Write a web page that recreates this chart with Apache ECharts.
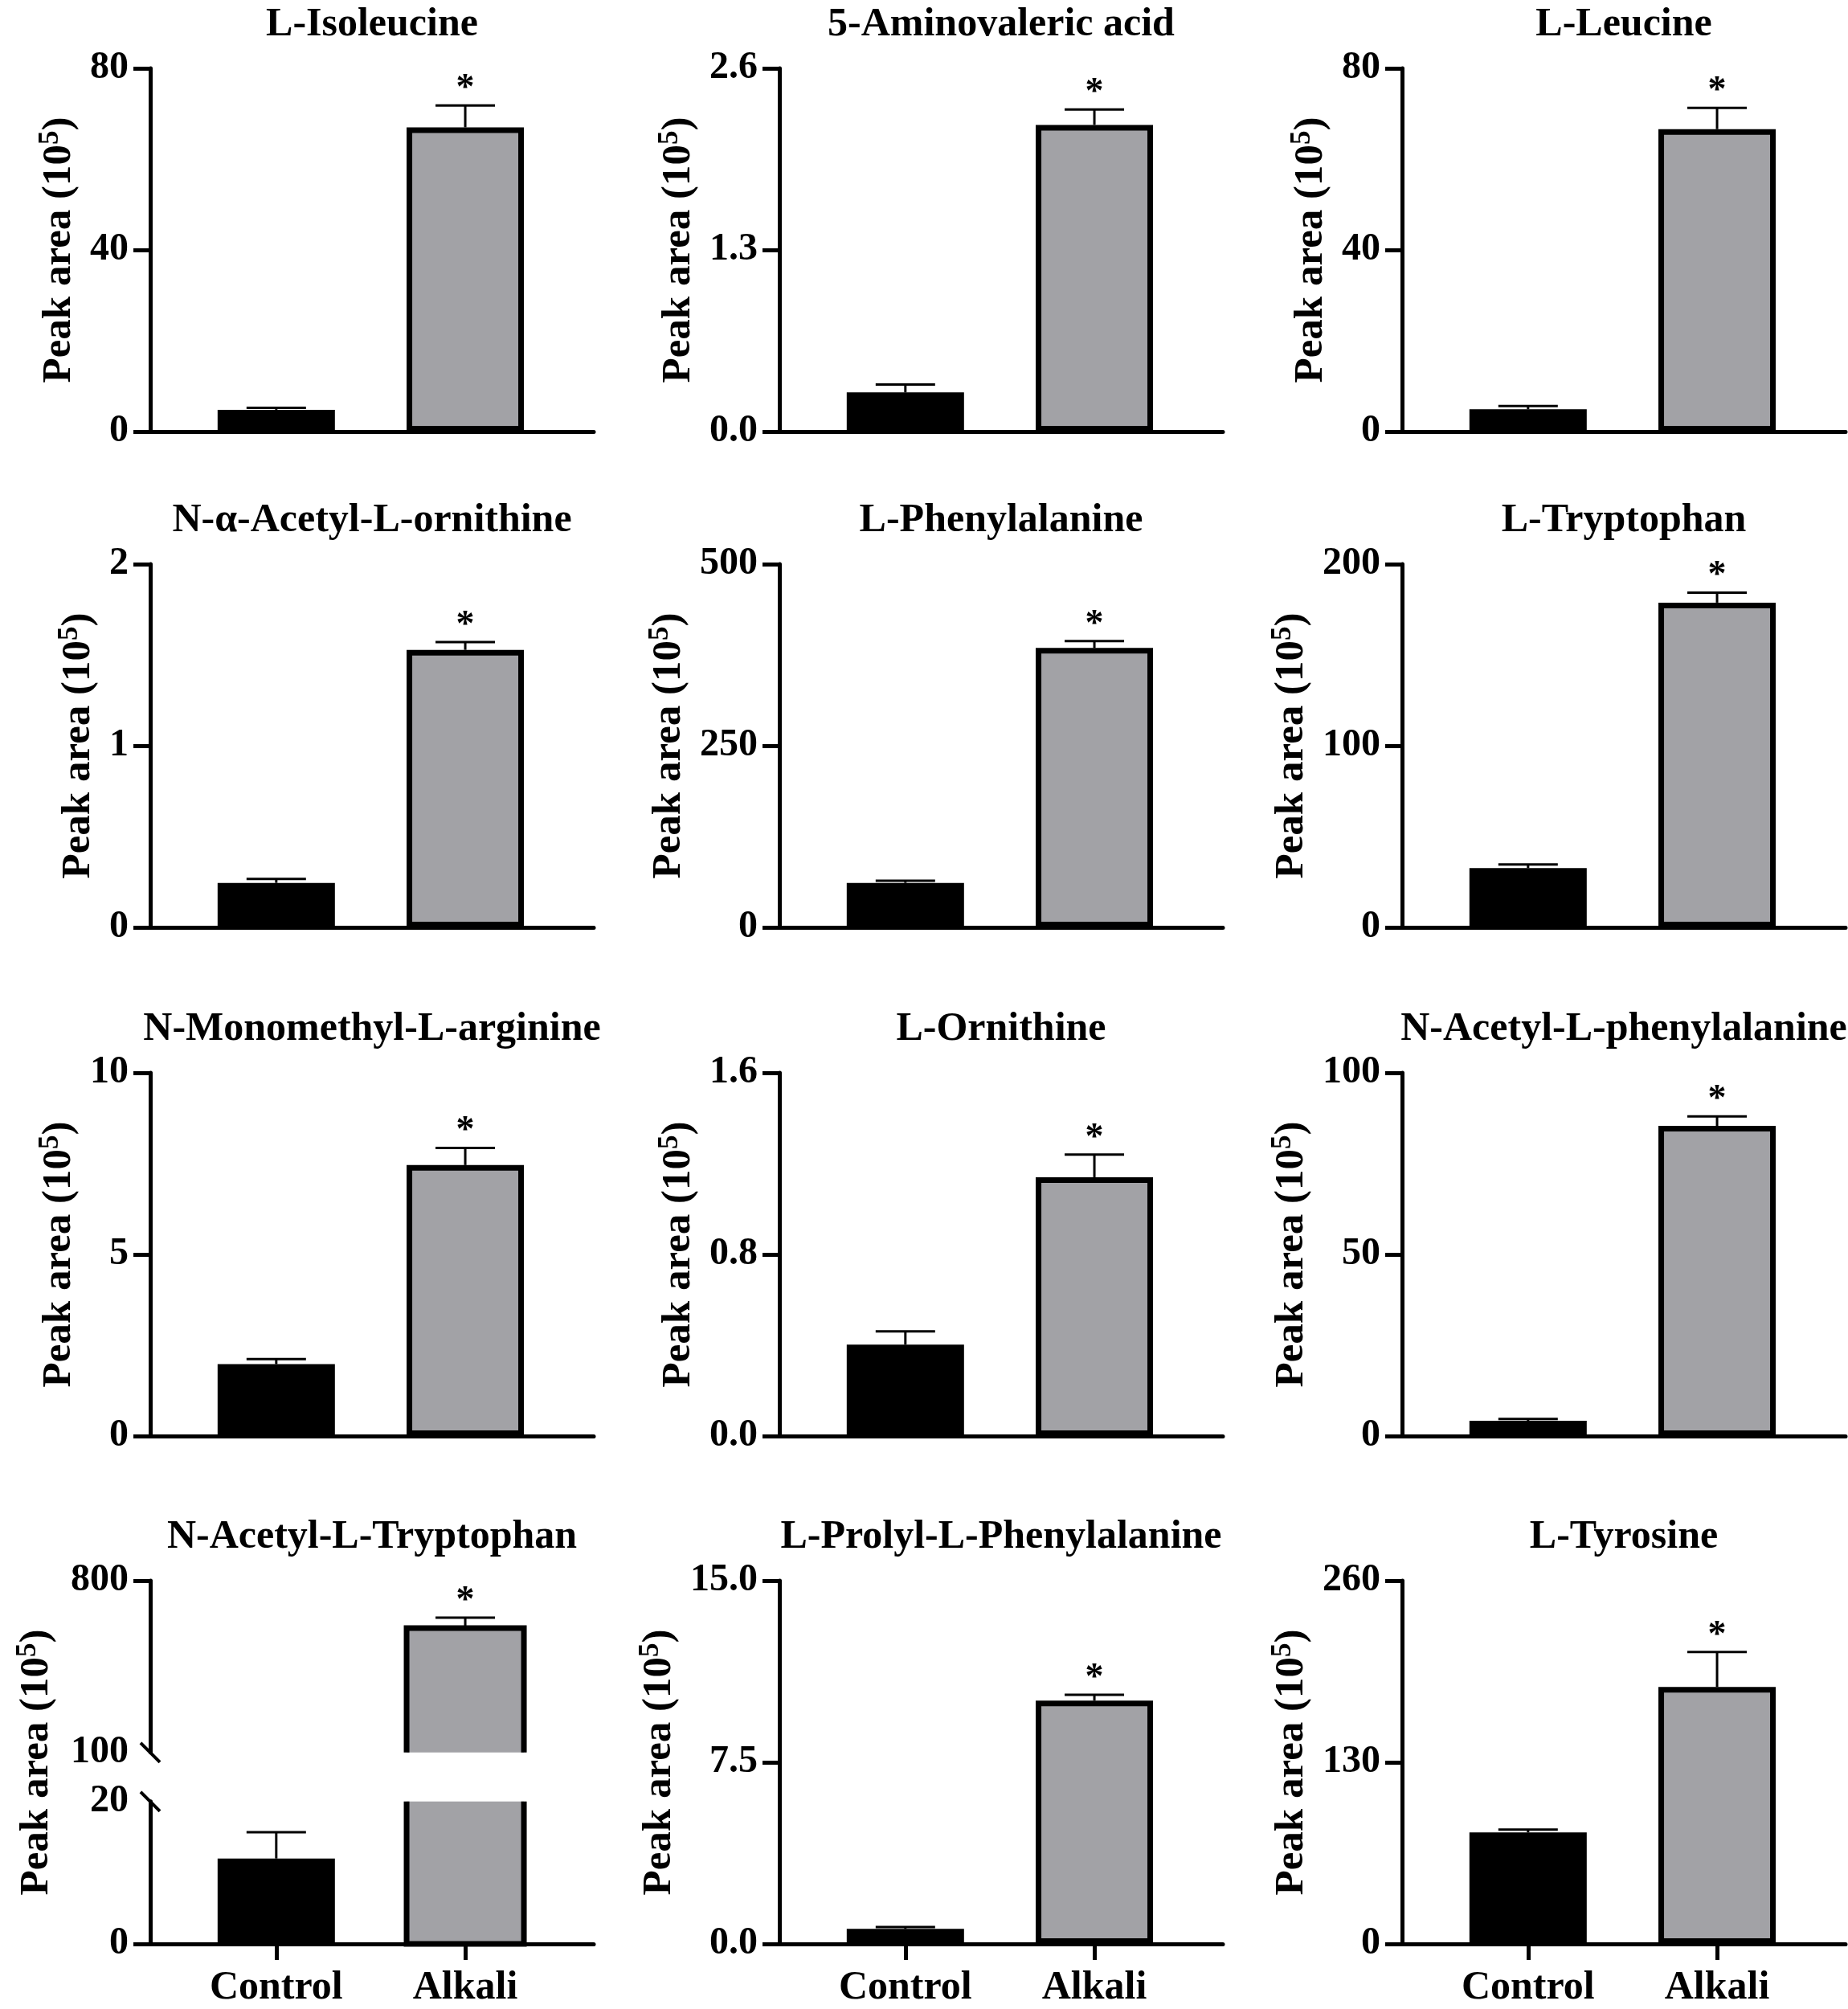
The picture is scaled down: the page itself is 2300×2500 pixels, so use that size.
<!DOCTYPE html>
<html>
<head>
<meta charset="utf-8">
<script src="https://cdn.jsdelivr.net/npm/echarts@6/dist/echarts.min.js"></script>
<style>
  html, body { margin: 0; padding: 0; background: #fff; }
  #chart { width: 2300px; height: 2500px; }
</style>
</head>
<body>
<div id="chart"></div>
<script>
// panel titles, left to right, top to bottom
const metabolites = [
  'L-Isoleucine', '5-Aminovaleric acid', 'L-Leucine',
  'N-α-Acetyl-L-ornithine', 'L-Phenylalanine', 'L-Tryptophan',
  'N-Monomethyl-L-arginine', 'L-Ornithine', 'N-Acetyl-L-phenylalanine',
  'N-Acetyl-L-Tryptophan', 'L-Prolyl-L-Phenylalanine', 'L-Tyrosine'
];
const groups = ['Control', 'Alkali'];

// peak area (10^5), mean and upper error (SEM)
const controlMean = [4.8, 0.28, 4.9, 0.245, 61.2, 32.6, 1.98, 0.403, 4.2, 12.0, 0.62, 79.8];
const controlSem  = [0.4, 0.056, 0.7, 0.022, 3.0, 2.0, 0.14, 0.058, 0.5, 3.7, 0.08, 2.0];
const alkaliMean  = [67.0, 2.195, 66.6, 1.528, 384.6, 178.8, 7.46, 1.14, 85.4, 607, 10.05, 183.9];
const alkaliSem   = [4.8, 0.11, 4.7, 0.043, 9.4, 5.5, 0.47, 0.10, 2.6, 42, 0.24, 25];
const significant = [1, 1, 1, 1, 1, 1, 1, 1, 1, 1, 1, 1];

// y axis top value and decimals of the tick labels
const yMax      = [80, 2.6, 80, 2, 500, 200, 10, 1.6, 100, 800, 15, 260];
const yDecimals = [0, 1, 0, 0, 0, 0, 0, 1, 0, 0, 1, 0];

// N-Acetyl-L-Tryptophan has a broken axis
const brokenPanel = 9;
const brokenLower = [0, 20];
const brokenUpper = [100, 800];

// layout
const colLeft = [187, 970, 1745];
const rowTop = [85, 702, 1335, 1967];
const plotW = 552, plotH = 452;
const upperFrac = 0.473, lowerFrac = 0.392;
const groupX = [1, 2.5];
const xMax = 3.52;
const barW = 146;
const FONT = '"Liberation Serif", "Times New Roman", serif';
const GRAY = '#a2a2a6';

const ctx = document.createElement('canvas').getContext('2d');
ctx.font = 'bold 48px "Liberation Serif"';
function labelWidth(strs) {
  return Math.max.apply(null, strs.map(s => ctx.measureText(s).width));
}

const grid = [], xAxis = [], yAxis = [], series = [], title = [];

function makeX(gi, showLabels, show) {
  return {
    gridIndex: gi, type: 'value', min: 0, max: xMax, show: show !== false,
    axisLine: { show: true, onZero: false, lineStyle: { color: '#000', width: 5 } },
    axisTick: { show: showLabels, customValues: groupX, length: 20, lineStyle: { color: '#000', width: 5 } },
    axisLabel: {
      show: showLabels, customValues: groupX, margin: 30,
      fontFamily: FONT, fontWeight: 'bold', fontSize: 50, color: '#000',
      formatter: v => groups[groupX.indexOf(v)] || ''
    },
    splitLine: { show: false }
  };
}

function nameStyle() {
  return {
    fontFamily: FONT, fontWeight: 'bold', fontSize: 51, color: '#000', lineHeight: 58,
    rich: { sup: { fontFamily: FONT, fontWeight: 'bold', fontSize: 35, lineHeight: 36, verticalAlign: 'top', color: '#000' } }
  };
}

function makeY(gi, min, max, interval, dec, tickVals, withName, gap) {
  return {
    gridIndex: gi, type: 'value', min: min, max: max, interval: interval,
    axisLine: { show: true, lineStyle: { color: '#000', width: 5 } },
    axisTick: { show: true, length: 21, customValues: tickVals, lineStyle: { color: '#000', width: 5 } },
    axisLabel: {
      margin: 27, fontFamily: FONT, fontWeight: 'bold', fontSize: 48, color: '#000',
      formatter: v => v.toFixed(dec)
    },
    splitLine: { show: false },
    name: withName ? 'Peak area (10{sup|5})' : '',
    nameLocation: 'middle', nameGap: gap, nameTextStyle: nameStyle()
  };
}

function addGrid(left, top, height) {
  grid.push({ left: left, top: top, width: plotW, height: height, outerBoundsMode: 'none', containLabel: false });
  return grid.length - 1;
}

// error bar going up from the mean, with a cap and an optional star
function renderErr(params, api) {
  const x = api.value(0), m = api.value(1), e = api.value(2);
  const p0 = api.coord([x, m]);
  const p1 = api.coord([x, m + e]);
  const children = [
    { type: 'line', shape: { x1: p0[0], y1: p0[1], x2: p1[0], y2: p1[1] }, style: { stroke: '#000', lineWidth: 3 } },
    { type: 'line', shape: { x1: p1[0] - 37, y1: p1[1], x2: p1[0] + 37, y2: p1[1] }, style: { stroke: '#000', lineWidth: 3 } }
  ];
  if (api.value(3)) {
    children.push({
      type: 'text', x: p1[0], y: p1[1] - 20,
      style: { text: '*', fontFamily: FONT, fontWeight: 'bold', fontSize: 46, fill: '#000', align: 'center', verticalAlign: 'middle' }
    });
  }
  return { type: 'group', children: children };
}

// one piece of a bar that crosses the axis break
function brokenBar(part) {
  return function (params, api) {
    const x = api.value(0), v = api.value(1);
    const lo = part === 'upper' ? brokenUpper[0] : brokenLower[0];
    const hi = part === 'upper' ? Math.min(v, brokenUpper[1]) : brokenLower[1];
    const pLo = api.coord([x, lo]), pHi = api.coord([x, hi]);
    const x0 = pLo[0] - barW / 2, x1 = pLo[0] + barW / 2;
    const outline = part === 'upper'
      ? [[x0, pLo[1]], [x0, pHi[1]], [x1, pHi[1]], [x1, pLo[1]]]
      : [[x0, pHi[1]], [x0, pLo[1]], [x1, pLo[1]], [x1, pHi[1]]];
    return {
      type: 'group', children: [
        { type: 'rect', shape: { x: x0, y: pHi[1], width: barW, height: pLo[1] - pHi[1] }, style: { fill: GRAY } },
        { type: 'polyline', shape: { points: outline }, style: { stroke: '#000', lineWidth: 7, fill: null, lineJoin: 'miter' } }
      ]
    };
  };
}

// little slash where the axis is cut
function renderSlash(params, api) {
  const p = api.coord([api.value(0), api.value(1)]);
  return { type: 'line', shape: { x1: p[0] - 12, y1: p[1] - 12, x2: p[0] + 12, y2: p[1] + 12 }, style: { stroke: '#000', lineWidth: 4 } };
}

for (let i = 0; i < metabolites.length; i++) {
  const c = i % 3, r = Math.floor(i / 3);
  const left = colLeft[c], top = rowTop[r];
  const bottomRow = r === 3;

  title.push({
    text: metabolites[i], left: left + plotW / 2, top: top - 79, textAlign: 'center', padding: 0,
    textStyle: { fontFamily: FONT, fontWeight: 'bold', fontSize: 50, color: '#000' }
  });

  if (i === brokenPanel) {
    const labs = [brokenLower[0], brokenLower[1], brokenUpper[0], brokenUpper[1]].map(String);
    const gap = labelWidth(labs) + 40;
    // upper segment
    const gu = addGrid(left, top, plotH * upperFrac);
    xAxis.push(makeX(gu, false, false));
    yAxis.push(makeY(gu, brokenUpper[0], brokenUpper[1], brokenUpper[1] - brokenUpper[0], 0, [brokenUpper[1]], false, 0));
    // lower segment
    const gl = addGrid(left, top + plotH * (1 - lowerFrac), plotH * lowerFrac);
    xAxis.push(makeX(gl, bottomRow, true));
    yAxis.push(makeY(gl, brokenLower[0], brokenLower[1], brokenLower[1] - brokenLower[0], 0, [brokenLower[0]], false, 0));
    // full height, only carries the axis title
    const gn = addGrid(left, top, plotH);
    xAxis.push({ gridIndex: gn, type: 'value', show: false, min: 0, max: xMax });
    yAxis.push({
      gridIndex: gn, type: 'value', min: 0, max: 1,
      axisLine: { show: false }, axisTick: { show: false }, axisLabel: { show: false }, splitLine: { show: false },
      name: 'Peak area (10{sup|5})', nameLocation: 'middle', nameGap: gap, nameTextStyle: nameStyle()
    });

    series.push({
      type: 'bar', xAxisIndex: gl, yAxisIndex: gl, barWidth: barW, silent: true,
      itemStyle: { borderColor: '#000', borderWidth: 7 },
      data: [{ value: [groupX[0], controlMean[i]], itemStyle: { color: '#000' } }]
    });
    series.push({ type: 'custom', xAxisIndex: gu, yAxisIndex: gu, renderItem: brokenBar('upper'), silent: true, data: [[groupX[1], alkaliMean[i]]] });
    series.push({ type: 'custom', xAxisIndex: gl, yAxisIndex: gl, renderItem: brokenBar('lower'), silent: true, data: [[groupX[1], alkaliMean[i]]] });
    series.push({ type: 'custom', xAxisIndex: gl, yAxisIndex: gl, renderItem: renderErr, silent: true, z: 5, data: [[groupX[0], controlMean[i], controlSem[i], 0]] });
    series.push({ type: 'custom', xAxisIndex: gu, yAxisIndex: gu, renderItem: renderErr, silent: true, z: 5, data: [[groupX[1], alkaliMean[i], alkaliSem[i], significant[i]]] });
    series.push({ type: 'custom', xAxisIndex: gu, yAxisIndex: gu, renderItem: renderSlash, silent: true, z: 6, data: [[0, brokenUpper[0]]] });
    series.push({ type: 'custom', xAxisIndex: gl, yAxisIndex: gl, renderItem: renderSlash, silent: true, z: 6, data: [[0, brokenLower[1]]] });
    continue;
  }

  const ticks = [0, yMax[i] / 2, yMax[i]].map(v => v.toFixed(yDecimals[i]));
  const gi = addGrid(left, top, plotH);
  xAxis.push(makeX(gi, bottomRow, true));
  yAxis.push(makeY(gi, 0, yMax[i], yMax[i] / 2, yDecimals[i], undefined, true, labelWidth(ticks) + 36));

  series.push({
    type: 'bar', xAxisIndex: gi, yAxisIndex: gi, barWidth: barW, silent: true,
    itemStyle: { borderColor: '#000', borderWidth: 7 },
    data: [
      { value: [groupX[0], controlMean[i]], itemStyle: { color: '#000' } },
      { value: [groupX[1], alkaliMean[i]], itemStyle: { color: GRAY } }
    ]
  });
  series.push({
    type: 'custom', xAxisIndex: gi, yAxisIndex: gi, renderItem: renderErr, silent: true, z: 5,
    data: [
      [groupX[0], controlMean[i], controlSem[i], 0],
      [groupX[1], alkaliMean[i], alkaliSem[i], significant[i]]
    ]
  });
}

const chart = echarts.init(document.getElementById('chart'), null, { renderer: 'canvas' });
chart.setOption({
  backgroundColor: '#fff',
  animation: false,
  title: title,
  grid: grid,
  xAxis: xAxis,
  yAxis: yAxis,
  series: series
});
</script>
</body>
</html>
